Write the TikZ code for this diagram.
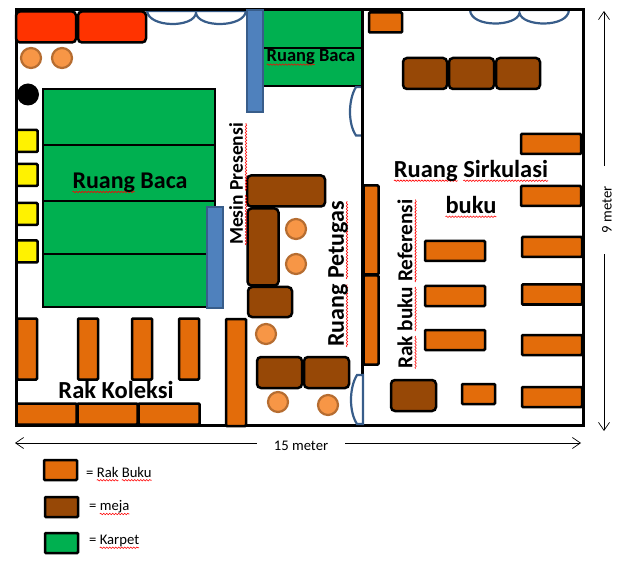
\documentclass[tikz,border=0pt]{standalone}
\usepackage{fontspec}
\setmainfont{Carlito}
\usepackage{tikz}
\usetikzlibrary{arrows.meta,decorations.pathmorphing}
\definecolor{oranye}{HTML}{E36C0A}
\definecolor{cokelat}{HTML}{974806}
\definecolor{hijau}{HTML}{00B050}
\definecolor{merah}{HTML}{FF3300}
\definecolor{biru}{HTML}{4F81BD}
\definecolor{birutua}{HTML}{385D8A}
\definecolor{kursiisi}{HTML}{F79646}
\definecolor{kursitepi}{HTML}{B66D31}
\newbox\kata
\newcommand{\salah}[1]{\leavevmode\setbox\kata=\hbox{#1}\tikz[overlay,baseline=0pt,x=1pt,y=1pt]{\draw[red,line width=.6pt,decorate,decoration={snake,amplitude=.7pt,segment length=3pt}] (0,-3.2) -- (\wd\kata,-3.2);}\box\kata\relax}
\tikzset{ukuran/.style 2 args={minimum width=#1,minimum height=#2}}
\tikzstyle{kotak} = [draw=black,line width=2.5pt,inner sep=0pt,outer sep=0pt]
\tikzstyle{rak} = [kotak,fill=oranye,rounded corners=1pt]
\tikzstyle{meja} = [kotak,fill=cokelat,rounded corners=4pt]
\tikzstyle{sofa} = [kotak,fill=merah,rounded corners=4pt]
\tikzstyle{karpet} = [kotak,fill=hijau]
\tikzstyle{loker} = [kotak,fill=yellow,rounded corners=1pt]
\tikzstyle{pilar} = [draw=birutua,line width=2pt,fill=biru,inner sep=0pt,outer sep=0pt]
\tikzstyle{kursi} = [circle,draw=kursitepi,line width=2.2pt,fill=kursiisi,minimum size=20,inner sep=0pt]
\tikzstyle{pintu} = [draw=birutua,line width=2.2pt,fill=white]
\tikzstyle{dinding} = [draw=black,line width=3pt]
\tikzstyle{ukur} = [draw=black,line width=.7pt,-{Straight Barb[length=8pt,width=11pt]}]
\tikzstyle{judul} = [inner sep=0pt]
\tikzstyle{catatan} = [inner sep=0pt,font=\fontsize{14.67}{15}\selectfont]
\begin{document}
\begin{tikzpicture}[x=1pt,y=-1pt]
        \useasboundingbox (0,0) rectangle (637,561);
        % karpet
        \node[karpet, ukuran={172}{56}] (k1) at (129,117) {};
        \node[karpet, ukuran={172}{56}] (k2) at (129,173) {};
        \node[karpet, ukuran={172}{53}] (k3) at (129,227.5) {};
        \node[karpet, ukuran={172}{53}] (k4) at (129,280.5) {};
        \node[karpet, ukuran={100}{38}] (k5) at (312.5,29) {};
        \node[karpet, ukuran={100}{38}] (k6) at (312.5,67) {};
        % pintu atas
        \draw[pintu] (147,11) .. controls (149,28) and (194,28) .. (196,13) .. controls (198,28) and (244,28) .. (246,11) -- cycle;
        \draw[pintu] (470,10) .. controls (471,28) and (517,27) .. (519.5,13) .. controls (522,27) and (568,28) .. (569,10) -- cycle;
        \draw[pintu] (362,87) -- (356,87) .. controls (348,100) and (348,124) .. (356,135.5) -- (362,135.5);
        % dinding
        \draw[dinding] (16,10) rectangle (583,425);
        \draw[dinding] (362.5,10) -- (362.5,425);
        \draw[pintu] (363,375) -- (357,375) .. controls (349,388) and (349,412) .. (357,424) -- (363,424) -- cycle;
        % pilar
        \node[pilar, ukuran={16}{102}] (p1) at (254.5,61) {};
        \node[pilar, ukuran={16}{101}] (p2) at (214.5,257.5) {};
        % sofa
        \node[sofa, ukuran={60}{31}] (s1) at (46,27) {};
        \node[sofa, ukuran={68}{31}] (s2) at (112,27) {};
        \node[kursi] (c1) at (31,58) {};
        \node[kursi] (c2) at (62,58) {};
        \node[circle, fill=black, minimum size=22, inner sep=0pt] (tiang) at (28,94.5) {};
        % loker
        \node[loker, ukuran={21}{22}] (l1) at (27,141) {};
        \node[loker, ukuran={21}{22}] (l2) at (27,175) {};
        \node[loker, ukuran={21}{22}] (l3) at (27,214) {};
        \node[loker, ukuran={21}{22}] (l4) at (27,251.5) {};
        % rak koleksi
        \node[rak, ukuran={20}{61}] (r1) at (27,349) {};
        \node[rak, ukuran={20}{61}] (r2) at (88,349) {};
        \node[rak, ukuran={20}{61}] (r3) at (142,349) {};
        \node[rak, ukuran={20}{61}] (r4) at (189,349) {};
        \node[rak, ukuran={20}{107}] (r5) at (236,372.5) {};
        \node[rak, ukuran={60}{21}] (r6) at (46.5,414) {};
        \node[rak, ukuran={60}{21}] (r7) at (107.5,414) {};
        \node[rak, ukuran={61}{21}] (r8) at (169,414) {};
        % meja petugas
        \node[meja, ukuran={78}{31}] (m1) at (286,191) {};
        \node[meja, ukuran={31}{77}] (m2) at (263,247) {};
        \node[meja, ukuran={44}{30}] (m3) at (270,302) {};
        \node[meja, ukuran={45}{31}] (m4) at (279.5,372.5) {};
        \node[meja, ukuran={45}{31}] (m5) at (326.5,372.5) {};
        \node[kursi] (c3) at (296,229) {};
        \node[kursi] (c4) at (296,264) {};
        \node[kursi] (c5) at (266,334) {};
        \node[kursi] (c6) at (278,402) {};
        \node[kursi] (c7) at (328,405) {};
        % ruang sirkulasi
        \node[rak, ukuran={33}{20}] (r9) at (385.5,22.5) {};
        \node[meja, ukuran={44}{31}] (m6) at (425,73.5) {};
        \node[meja, ukuran={45}{31}] (m7) at (471.5,73.5) {};
        \node[meja, ukuran={44}{31}] (m8) at (518,73.5) {};
        \node[rak, ukuran={15}{89}] (r10) at (371,230) {};
        \node[rak, ukuran={15}{89}] (r11) at (371,320) {};
        \node[rak, ukuran={60}{20}] (r12) at (551,144) {};
        \node[rak, ukuran={60}{20}] (r13) at (551,196) {};
        \node[rak, ukuran={60}{20}] (r14) at (552,247) {};
        \node[rak, ukuran={60}{20}] (r15) at (552,294.5) {};
        \node[rak, ukuran={60}{20}] (r16) at (552,345) {};
        \node[rak, ukuran={60}{20}] (r17) at (552,397) {};
        \node[rak, ukuran={60}{20}] (r18) at (455,251) {};
        \node[rak, ukuran={60}{20}] (r19) at (455,296) {};
        \node[rak, ukuran={60}{20}] (r20) at (455,340) {};
        \node[rak, ukuran={33}{20}] (r21) at (478.5,394) {};
        \node[meja, ukuran={45}{31}] (m9) at (413.5,395.5) {};
        % label ruang
        \node[judul, font=\bfseries\fontsize{24}{24}\selectfont] (t1) at (130,183) {\salah{Ruang} Baca};
        \node[judul, font=\bfseries\fontsize{18.5}{19}\selectfont] (t2) at (311,57) {\salah{Ruang} Baca};
        \node[judul, font=\bfseries\fontsize{19.5}{20}\selectfont, rotate=90] (t3) at (236,184) {\salah{Mesin} \salah{Presensi}};
        \node[judul, font=\bfseries\fontsize{24}{24}\selectfont, rotate=90] (t4) at (338,274) {\salah{Ruang} \salah{Petugas}};
        \node[judul, font=\bfseries\fontsize{21.3}{22}\selectfont, rotate=90] (t5) at (405,284) {\salah{Rak} \salah{buku} \salah{Referensi}};
        \node[judul, font=\bfseries\fontsize{24.5}{25}\selectfont] (t6) at (471,171) {\salah{Ruang} \salah{Sirkulasi}};
        \node[judul, font=\bfseries\fontsize{24.5}{25}\selectfont] (t7) at (471,205) {\salah{buku}};
        \node[judul, font=\bfseries\fontsize{24.5}{25}\selectfont] (t8) at (116,390) {Rak Koleksi};
        % ukuran ruangan
        \coordinate (kiri) at (15,443);
        \coordinate (kanan) at (581,443);
        \coordinate (atas) at (604,11);
        \coordinate (bawah) at (604,431);
        \node[catatan, minimum width=88] (lebar) at (301,446) {15 meter};
        \node[catatan, minimum width=88, rotate=90] (tinggi) at (607,210) {9 meter};
        \draw[ukur] (lebar.west |- kiri) -- (kiri);
        \draw[ukur] (lebar.east |- kanan) -- (kanan);
        \draw[ukur] (tinggi.east -| atas) -- (atas);
        \draw[ukur] (tinggi.west -| bawah) -- (bawah);
        % keterangan
        \node[rak, ukuran={33}{20}] (a1) at (60.5,470) {};
        \node[meja, rounded corners=1pt, ukuran={33}{20}] (a2) at (61.5,507) {};
        \node[karpet, rounded corners=1pt, ukuran={33}{20}] (a3) at (61.5,543) {};
        \node[catatan, anchor=west] (b1) at (86,472) {= \salah{Rak} \salah{Buku}};
        \node[catatan, anchor=west] (b2) at (89,507) {= \salah{meja}};
        \node[catatan, anchor=west] (b3) at (89,541) {= \salah{Karpet}};
      \end{tikzpicture}
\end{document}
